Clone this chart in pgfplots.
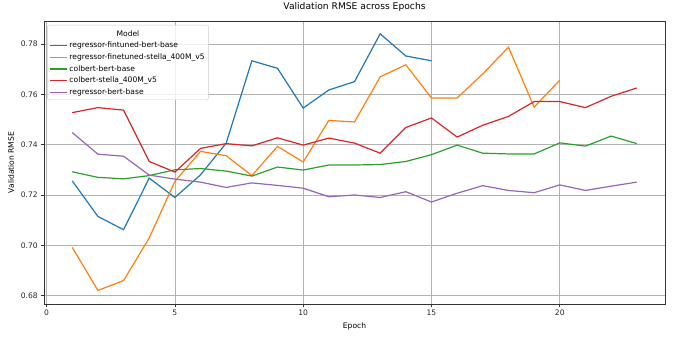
\documentclass[border=0pt]{standalone}
\usepackage{fontspec}
\setmainfont{DejaVu Sans}
\usepackage{pgfplots}
\pgfplotsset{compat=1.18}

\definecolor{tabblue}{HTML}{1F77B4}
\definecolor{taborange}{HTML}{FF7F0E}
\definecolor{tabgreen}{HTML}{2CA02C}
\definecolor{tabred}{HTML}{D62728}
\definecolor{tabpurple}{HTML}{9467BD}

\begin{document}
\begin{tikzpicture}
\begin{axis}[
  name=main,
  scale only axis,
  width=621bp, height=283bp,
  xmin=-0.1, xmax=24.1,
  ymin=0.6767, ymax=0.7891,
  xtick={0,5,10,15,20},
  ytick={0.68,0.70,0.72,0.74,0.76,0.78},
  yticklabel style={/pgf/number format/.cd, fixed, fixed zerofill, precision=2},
  /pgf/number format/assume math mode=true,
  tick label style={font=\fontsize{7.6}{9}\selectfont, black!85},
  label style={font=\fontsize{7.6}{9}\selectfont},
  title style={font=\fontsize{9.2}{11}\selectfont},
  title={Validation RMSE across Epochs},
  xlabel={Epoch},
  ylabel={Validation RMSE},
  grid=major,
  grid style={color=black!30, line width=0.6bp},
  axis line style={line width=0.6bp, black!80},
  tick align=outside,
  tick pos=left,
  major tick length=2.7bp,
  tick style={black!80, line width=0.6bp},
  every axis plot/.append style={line width=1.2bp},
  legend style={
    name=leg,
    at={(axis description cs:0.005,0.986)}, anchor=north west,
    draw=black!20, rounded corners=2bp, fill=white, fill opacity=0.8, text opacity=1,
    font=\fontsize{7.6}{9}\selectfont,
    row sep=0.6bp, inner xsep=2bp, inner ysep=1.5bp,
  },
  legend cell align=left,
  legend image code/.code={\draw[#1] (0bp,0bp) -- (17bp,0bp);},
]
% first legend row is kept empty; the title "Model" is drawn over it
\addlegendimage{empty legend}
\addlegendentry{\rule{0pt}{7bp}}

% regressor-fintuned-bert-base
\addplot[tabblue] coordinates {
  (1,0.7256) (2,0.7115) (3,0.7062) (4,0.7267) (5,0.7190) (6,0.7280)
  (7,0.7406) (8,0.7733) (9,0.7703) (10,0.7545) (11,0.7617) (12,0.7650)
  (13,0.7840) (14,0.7752) (15,0.7733)
};
\addlegendentry{regressor-fintuned-bert-base}

% regressor-finetuned-stella_400M_v5
\addplot[taborange] coordinates {
  (1,0.6992) (2,0.6821) (3,0.6860) (4,0.7029) (5,0.7254) (6,0.7373)
  (7,0.7356) (8,0.7277) (9,0.7393) (10,0.7331) (11,0.7496) (12,0.7490)
  (13,0.7669) (14,0.7717) (15,0.7585) (16,0.7585) (17,0.7681) (18,0.7787)
  (19,0.7549) (20,0.7656)
};
\addlegendentry{regressor-finetuned-stella\_400M\_v5}

% colbert-bert-base
\addplot[tabgreen] coordinates {
  (1,0.7292) (2,0.7270) (3,0.7264) (4,0.7277) (5,0.7300) (6,0.7305)
  (7,0.7295) (8,0.7275) (9,0.7311) (10,0.7299) (11,0.7319) (12,0.7319)
  (13,0.7321) (14,0.7333) (15,0.7360) (16,0.7398) (17,0.7366) (18,0.7363)
  (19,0.7363) (20,0.7407) (21,0.7394) (22,0.7434) (23,0.7404)
};
\addlegendentry{colbert-bert-base}

% colbert-stella_400M_v5
\addplot[tabred] coordinates {
  (1,0.7527) (2,0.7547) (3,0.7537) (4,0.7333) (5,0.7291) (6,0.7385)
  (7,0.7404) (8,0.7395) (9,0.7427) (10,0.7398) (11,0.7426) (12,0.7406)
  (13,0.7366) (14,0.7468) (15,0.7506) (16,0.7430) (17,0.7477) (18,0.7512)
  (19,0.7571) (20,0.7571) (21,0.7547) (22,0.7592) (23,0.7625)
};
\addlegendentry{colbert-stella\_400M\_v5}

% regressor-bert-base
\addplot[tabpurple] coordinates {
  (1,0.7448) (2,0.7362) (3,0.7354) (4,0.7279) (5,0.7263) (6,0.7251)
  (7,0.7230) (8,0.7248) (9,0.7238) (10,0.7227) (11,0.7193) (12,0.7200)
  (13,0.7190) (14,0.7213) (15,0.7172) (16,0.7207) (17,0.7237) (18,0.7218)
  (19,0.7209) (20,0.7240) (21,0.7218) (22,0.7235) (23,0.7251)
};
\addlegendentry{regressor-bert-base}
\end{axis}
\node[font=\fontsize{7.6}{9}\selectfont, anchor=north] at ([yshift=-2bp]leg.north) {Model};
\pgfresetboundingbox
\useasboundingbox ([shift={(-44bp,-33bp)}]main.south west) rectangle ([shift={(9bp,21bp)}]main.north east);
\end{tikzpicture}
\end{document}
